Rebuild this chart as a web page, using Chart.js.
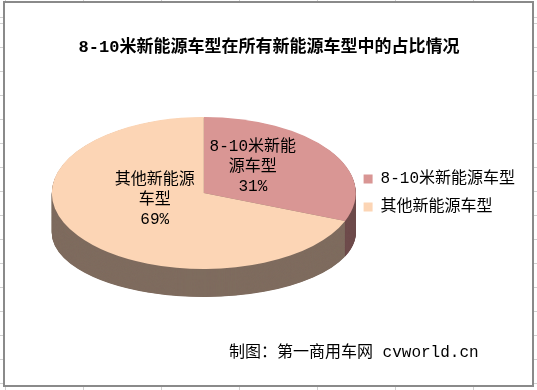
<!DOCTYPE html>
<html>
<head>
<meta charset="utf-8">
<title>8-10米新能源车型占比</title>
<script src="https://cdn.jsdelivr.net/npm/chart.js@4"></script>
<style>
  html, body { margin: 0; padding: 0; }
  body {
    width: 537px; height: 390px; position: relative; overflow: hidden;
    background-color: #fff;
    background-image:
      repeating-linear-gradient(to right, #d0d0d0 0 1px, transparent 1px 78px),
      repeating-linear-gradient(to bottom, #d0d0d0 0 1px, transparent 1px 24px);
    background-position: 5px 0, 0 23px;
  }
  #frame {
    position: absolute; left: 3px; top: 1px; width: 531px; height: 386px;
    box-sizing: border-box; border: 2px solid #8a8a8a; background: #fff;
  }
  #chart { position: absolute; left: 0; top: 0; }
  #source {
    position: absolute; left: 229px; top: 343px;
    font: 16px/20px "Liberation Mono", "Noto Sans CJK SC", sans-serif;
    color: #000; white-space: nowrap;
  }
</style>
</head>
<body>
<div id="frame"></div>
<canvas id="chart" width="537" height="390"></canvas>
<div id="source">制图：第一商用车网 cvworld.cn</div>
<script>
const categories = ['8-10米新能源车型', '其他新能源车型'];
const shares = [31, 69];
// category names as Excel wraps them inside the slices
const labelLines = [['8-10米新能', '源车型'], ['其他新能源', '车型']];

const topColors = ['#d99694', '#fcd5b5'];
const sideColors = ['#6e4b4b', '#7f6c5f'];
const FONT = '"Liberation Mono", "Noto Sans CJK SC", sans-serif';

// Excel-style 3D look: squash the pie and stack darker copies underneath
const TILT = 0.5;
const BOTTOM_TILT = 64 / 152;
const DEPTH = 40;

function project(ctx, cx, cy, dy, k) {
    ctx.translate(cx, cy + dy);
    ctx.scale(1, k);
    ctx.translate(-cx, -cy);
}

// empty box on the left so the pie sits left of centre while the title stays centred
// (display:false keeps it from halving the legend's allowed width)
const leftGap = {
    id: 'leftGap',
    beforeInit(chart) {
        Chart.layouts.addBox(chart, {
            position: 'left',
            weight: 0,
            fullSize: false,
            options: { display: false },
            isHorizontal: () => false,
            update(maxWidth, maxHeight) { this.width = 43; this.height = maxHeight; },
            draw() {}
        });
    }
};

const pie3d = {
    id: 'pie3d',
    beforeDatasetsDraw(chart) {
        const ctx = chart.ctx;
        const arcs = chart.getDatasetMeta(0).data;
        const cx = arcs[0].x, cy = arcs[0].y;
        for (let d = DEPTH; d > 0; d -= 0.5) {
            const t = d / DEPTH;
            ctx.save();
            project(ctx, cx, cy, d, TILT + (BOTTOM_TILT - TILT) * t);
            arcs.forEach((arc, i) => {
                const opts = arc.options;
                arc.options = Object.assign({}, opts, { backgroundColor: sideColors[i] });
                arc.draw(ctx);
                arc.options = opts;
            });
            ctx.restore();
        }
        ctx.save();
        project(ctx, cx, cy, 0, TILT);
    },
    afterDatasetsDraw(chart) {
        const ctx = chart.ctx;
        ctx.restore();
        const arcs = chart.getDatasetMeta(0).data;
        const total = shares.reduce((a, b) => a + b, 0);
        ctx.save();
        ctx.font = '16px ' + FONT;
        ctx.fillStyle = '#000';
        ctx.textAlign = 'center';
        ctx.textBaseline = 'middle';
        arcs.forEach((arc, i) => {
            const p = arc.tooltipPosition();
            const x = arc.x + (p.x - arc.x) * 0.78;
            const y = arc.y + (p.y - arc.y) * TILT * 0.78 - 10;
            const lines = labelLines[i].concat(Math.round(shares[i] / total * 100) + '%');
            lines.forEach((s, j) => ctx.fillText(s, x, y + (j - (lines.length - 1) / 2) * 20));
        });
        ctx.restore();
    }
};

new Chart(document.getElementById('chart'), {
    type: 'pie',
    data: {
        labels: categories,
        datasets: [{
            data: shares,
            backgroundColor: topColors,
            borderWidth: 0,
            radius: 152,
            clip: false
        }]
    },
    options: {
        responsive: false,
        animation: false,
        events: [],
        layout: { padding: { left: 13, right: 12, top: 0, bottom: 72.4 } },
        plugins: {
            title: {
                display: true,
                text: '8-10米新能源车型在所有新能源车型中的占比情况',
                color: '#000',
                font: { family: FONT, size: 17, weight: 'bold', lineHeight: 1.2 },
                padding: { top: 38, bottom: 10 }
            },
            legend: {
                position: 'right',
                fullSize: false,
                labels: {
                    boxWidth: 9,
                    boxHeight: 9,
                    padding: 12,
                    color: '#000',
                    font: { family: FONT, size: 16 }
                }
            },
            tooltip: { enabled: false }
        }
    },
    plugins: [leftGap, pie3d]
});
</script>
</body>
</html>
